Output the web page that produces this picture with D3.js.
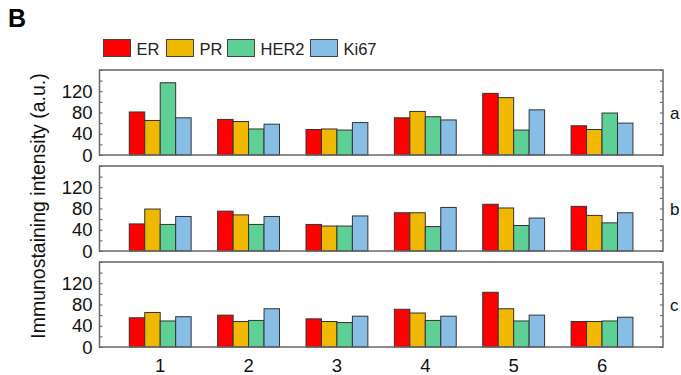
<!DOCTYPE html>
<html><head><meta charset="utf-8">
<script src="https://cdn.jsdelivr.net/npm/d3@7"></script>
<style>body{margin:0;background:#fff}svg{display:block}</style>
</head><body>
<svg id="c" width="681" height="375"></svg>
<script>
const categories = [1, 2, 3, 4, 5, 6];
const series = ["ER", "PR", "HER2", "Ki67"];
const colors = ["#ff0000", "#f0b800", "#5fd095", "#88bde6"];
const panelLabels = ["a", "b", "c"];
const yTicks = [0, 40, 80, 120];
// values per panel: [ER, PR, HER2, Ki67] per category
const panelA_ER   = [81, 67, 48, 70, 116, 55];
const panelA_PR   = [65, 63, 49, 82, 108, 48];
const panelA_HER2 = [136, 49, 47, 72, 47, 79];
const panelA_Ki67 = [70, 58, 61, 66, 85, 60];
const panelB_ER   = [51, 75, 50, 72, 88, 84];
const panelB_PR   = [79, 68, 47, 72, 81, 67];
const panelB_HER2 = [50, 50, 47, 46, 48, 53];
const panelB_Ki67 = [65, 65, 66, 82, 62, 72];
const panelC_ER   = [55, 60, 53, 71, 103, 48];
const panelC_PR   = [65, 48, 48, 64, 72, 48];
const panelC_HER2 = [49, 50, 46, 50, 49, 49];
const panelC_Ki67 = [57, 72, 58, 58, 60, 56];
const panels = [
  [panelA_ER, panelA_PR, panelA_HER2, panelA_Ki67],
  [panelB_ER, panelB_PR, panelB_HER2, panelB_Ki67],
  [panelC_ER, panelC_PR, panelC_HER2, panelC_Ki67]
];

const svg = d3.select("#c");
const font = "Arial, 'Liberation Sans', sans-serif";
const left = 99.5, right = 663;
const tops = [70, 166, 262], ph = 85;
const x = d3.scaleLinear().domain([0.313, 6.69]).range([left, right]);
const barW = 0.175;

svg.append("text").attr("x", 8).attr("y", 27).attr("font-family", font)
  .attr("font-weight", "bold").attr("font-size", 25).text("B");

// legend
const legX = [103.5, 166.5, 227.5, 310.5];
series.forEach((s, i) => {
  svg.append("rect").attr("x", legX[i]).attr("y", 39.5).attr("width", 27).attr("height", 17)
    .attr("fill", colors[i]).attr("stroke", "#444").attr("stroke-width", 1);
  svg.append("text").attr("x", legX[i] + 33).attr("y", 54.5).attr("font-family", font)
    .attr("font-size", 16.5).attr("fill", "#222").text(s);
});

panels.forEach((vals, p) => {
  const top = tops[p], bottom = top + ph;
  const y = d3.scaleLinear().domain([0, 160]).range([bottom, top]);
  const g = svg.append("g");
  // bars
  vals.forEach((arr, si) => {
    g.selectAll(null).data(arr).enter().append("rect")
      .attr("x", (d, i) => x(categories[i] + (si - 2) * barW))
      .attr("width", x(barW) - x(0))
      .attr("y", d => y(d))
      .attr("height", d => y(0) - y(d))
      .attr("fill", colors[si]).attr("stroke", "#333").attr("stroke-width", 1);
  });
  // left/right axes with inner ticks
  const minor = d3.range(0, 161, 20);
  const la = g.append("g").attr("transform", `translate(${left},0)`)
    .call(d3.axisRight(y).tickValues(minor).tickSize(3).tickFormat(""));
  la.select(".domain").remove();
  la.selectAll("line").attr("stroke", "#555");
  const ra = g.append("g").attr("transform", `translate(${right},0)`)
    .call(d3.axisLeft(y).tickValues(minor).tickSize(3).tickFormat(""));
  ra.select(".domain").remove();
  ra.selectAll("line").attr("stroke", "#555");
  // tick labels
  g.selectAll(null).data(yTicks).enter().append("text")
    .attr("x", left - 7).attr("y", d => y(d)).attr("dy", "0.36em")
    .attr("text-anchor", "end").attr("font-family", font).attr("font-size", 18.5)
    .attr("fill", "#111").text(d => d);
  // frame
  g.append("rect").attr("x", left).attr("y", top).attr("width", right - left).attr("height", ph)
    .attr("fill", "none").attr("stroke", "#666").attr("stroke-width", 1.5);
  g.append("text").attr("x", 670).attr("y", top + ph / 2 + 6).attr("font-family", font)
    .attr("font-size", 17).attr("fill", "#111").text(panelLabels[p]);
});

// x labels
svg.selectAll(null).data(categories).enter().append("text")
  .attr("x", d => x(d)).attr("y", 372).attr("text-anchor", "middle")
  .attr("font-family", font).attr("font-size", 18.5).attr("fill", "#111").text(d => d);

svg.append("text").attr("transform", "translate(45,206) rotate(-90)")
  .attr("text-anchor", "middle").attr("font-family", font).attr("font-size", 19.5)
  .attr("fill", "#111").text("Immunostaining intensity (a.u.)");
</script>
</body></html>
